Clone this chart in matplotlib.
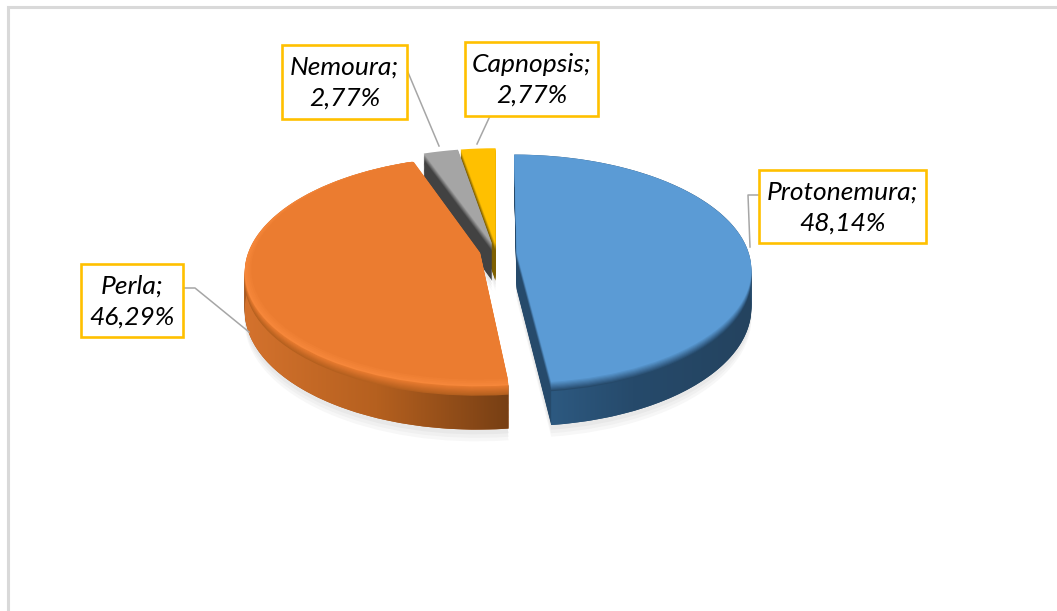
import numpy as np
import matplotlib
matplotlib.use('Agg')
import matplotlib.pyplot as plt
from matplotlib.colors import LinearSegmentedColormap, to_rgb
from matplotlib.patches import Polygon, Rectangle
from matplotlib.transforms import Transform

# data
generos = ['Protonemura', 'Perla', 'Nemoura', 'Capnopsis']
valores = [48.14, 46.29, 2.77, 2.77]
rotulos = ['48,14%', '46,29%', '2,77%', '2,77%']

cores_topo = ['#5b9bd5', '#eb7c30', '#a5a5a5', '#ffc000']
cores_lado = ['#264a6b', '#a85a22', '#424242', '#7f6000']
cores_borda = ['#5b9bd5', '#f6873a', '#a5a5a5', '#ffc000']
gradientes = {0: ['#30608a', '#264a6b', '#24435f'],
              1: ['#d4722d', '#b5601f', '#773f14']}

# caixas: x0, y0, x1, y1 (pixels)
caixas = [(759, 170, 926, 243), (81, 264, 183, 337), (282, 45, 407, 119), (465, 42, 598, 116)]
guias = [[(759, 195), (748, 195), (750, 247)],
         [(183, 288), (195, 288), (249, 332)],
         [(407, 70), (439, 146)],
         [(490, 116), (477, 144)]]

EXPLODE = [0.085, 0.075, 0.08, 0.08]
ANGULO = 90
CX, CY = 497, 253
RX, RY = 232, 112
K = 0.143
D = 37


class Perspectiva(Transform):
    input_dims = 2
    output_dims = 2

    def __init__(self, z=0):
        super().__init__()
        self.z = z

    def transform_non_affine(self, xy):
        xy = np.asarray(xy)
        u, v = xy[:, 0], xy[:, 1]
        s = 1 / (1 + K * v)
        return np.column_stack((CX + RX * u * s, CY - RY * v * s + self.z * s))


fig = plt.figure(figsize=(10.57, 6.11), dpi=100)
ax = fig.add_axes([0, 0, 1, 1])
ordem = 0


def mistura(a, b, t):
    a, b = np.array(to_rgb(a)), np.array(to_rgb(b))
    return tuple(a + (b - a) * t)


def camada(z, cores, raio=1.0, so=None, centro=(0, 0), recorte=None):
    # um pie inteiro, depois cada fatia passa pela perspectiva
    global ordem
    wedges, _ = ax.pie(valores, explode=EXPLODE, radius=raio, startangle=ANGULO, counterclock=False,
                       colors=cores, center=centro, wedgeprops={'linewidth': 0})
    fatia = None
    for i, w in enumerate(wedges):
        if so is not None and i != so:
            w.remove()
            continue
        ordem += 1
        w.set_transform(Perspectiva(z) + ax.transData)
        w.set_zorder(ordem)
        if recorte is not None:
            w.set_clip_path(recorte)
        else:
            w.set_clip_on(False)
        fatia = w
    return fatia


def lateral(i):
    # faixa do arco com gradiente horizontal
    global ordem
    total = sum(valores)
    ini = 360 * sum(valores[:i]) / total + 90 - ANGULO
    fim = 360 * sum(valores[:i + 1]) / total + 90 - ANGULO
    meio = np.radians((ini + fim) / 2)
    ang = np.radians(np.linspace(ini, fim, 120))
    u = np.sin(ang) + EXPLODE[i] * np.sin(meio)
    v = np.cos(ang) + EXPLODE[i] * np.cos(meio)
    arco = np.column_stack((u, v))
    cima = Perspectiva(0).transform_non_affine(arco)
    baixo = Perspectiva(D).transform_non_affine(arco)
    contorno = np.vstack((cima, baixo[::-1]))
    ordem += 1
    cmap = LinearSegmentedColormap.from_list('lado', gradientes[i])
    x0, x1 = contorno[:, 0].min(), contorno[:, 0].max()
    y0, y1 = contorno[:, 1].min(), contorno[:, 1].max()
    im = ax.imshow(np.linspace(0, 1, 256).reshape(1, -1), cmap=cmap, extent=(x0, x1, y1, y0),
                   aspect='auto', zorder=ordem)
    clip = Polygon(contorno, closed=True, transform=ax.transData)
    im.set_clip_path(clip)


# sombra
for z, c in [(D + 10, '#f7f7f7'), (D + 7, '#f0f0f0'), (D + 4, '#e8e8e8')]:
    camada(z, [c] * 4)

# yellow and gray sit behind, then orange, then blue
for i in [3, 2, 1, 0]:
    for z in np.arange(D, 8, -1.0):
        camada(z, cores_lado, so=i)
    if i in gradientes:
        lateral(i)
    for z in np.arange(8, 0, -1.0):
        camada(z, [mistura(cores_topo[k], cores_lado[k] if k not in gradientes else gradientes[k][1], z / 8)
                   for k in range(4)], so=i)
    fora = camada(0, cores_borda, so=i)
    # only the orange slice shows a lighter rim, on its front side, fading inwards
    if i == 1:
        for t in np.linspace(0.25, 1, 4):
            cores = [mistura(cores_borda[k], cores_topo[k], t) for k in range(4)]
            camada(0, cores, raio=1 - 0.025 * t, so=i, centro=(0, 0.02 * t), recorte=fora)

# borda externa do grafico (top and left only, the rest is cropped)
ax.plot([8, 8, 1057], [611, 7, 7], color='#d9d9d9', lw=2.2, zorder=ordem + 1,
        solid_joinstyle='miter')

for i, g in enumerate(generos):
    x0, y0, x1, y1 = caixas[i]
    gx, gy = zip(*guias[i])
    ax.plot(gx, gy, color='#a6a6a6', lw=1.1, zorder=ordem + 2)
    ax.add_patch(Rectangle((x0, y0), x1 - x0, y1 - y0, facecolor='white', edgecolor='#ffc000',
                           lw=1.9, zorder=ordem + 3))
    ax.text((x0 + x1) / 2, (y0 + y1) / 2 + 1, f'{g};\n{rotulos[i]}', ha='center', va='center',
            family='Lato', style='italic', fontsize=19, linespacing=1.42, color='black',
            zorder=ordem + 4)

ax.set_aspect('auto')
ax.set_xlim(0, 1057)
ax.set_ylim(611, 0)
ax.axis('off')
fig.savefig('out.png', dpi=100, facecolor='white')
